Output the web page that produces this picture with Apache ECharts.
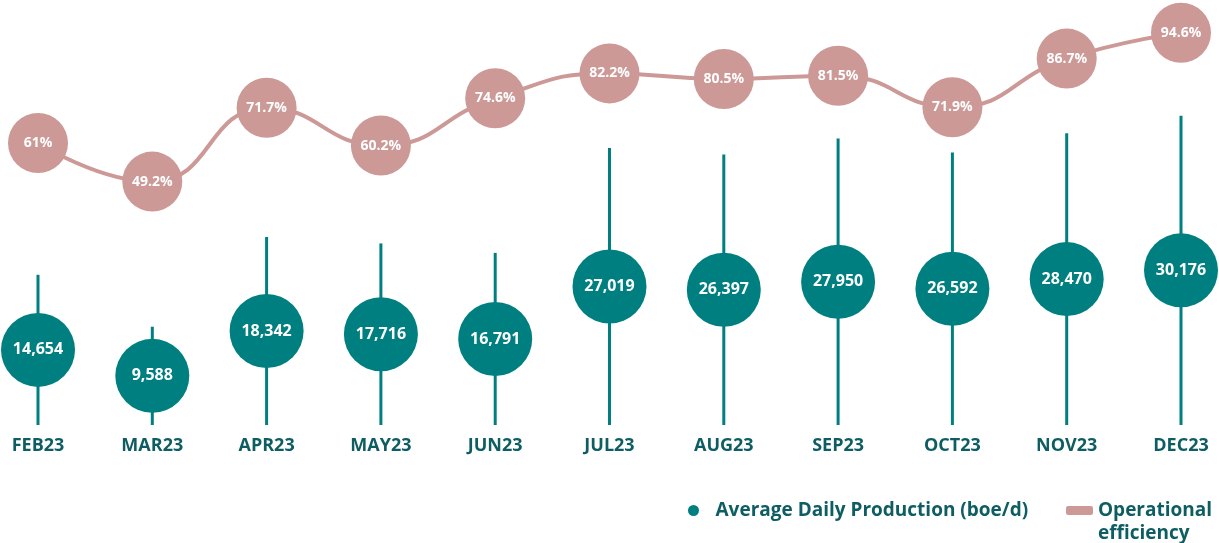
<!DOCTYPE html>
<html>
<head>
<meta charset="utf-8">
<script src="https://cdn.jsdelivr.net/npm/echarts@6/dist/echarts.min.js"></script>
<style>
html,body{margin:0;padding:0;background:#fff;}
#c{width:1219px;height:543px;}
</style>
</head>
<body>
<div id="c"></div>
<script>
const categories = ['FEB23','MAR23','APR23','MAY23','JUN23','JUL23','AUG23','SEP23','OCT23','NOV23','DEC23'];
const production = [14654, 9588, 18342, 17716, 16791, 27019, 26397, 27950, 26592, 28470, 30176];
const efficiency = [61, 49.2, 71.7, 60.2, 74.6, 82.2, 80.5, 81.5, 71.9, 86.7, 94.6];

const TEAL = '#007f80';
const PINK = '#cc9997';
const DARK = '#0e5d63';
const FONT = '"Open Sans", "Noto Sans", sans-serif';
const legendText = { color: DARK, fontWeight: 'bold', fontSize: 19, fontFamily: FONT, lineHeight: 23 };

const chart = echarts.init(document.getElementById('c'));
chart.setOption({
  animation: false,
  grid: { left: 38, right: 38, top: 15, bottom: 118 },
  xAxis: {
    type: 'category',
    data: categories,
    boundaryGap: false,
    axisLine: { show: false },
    axisTick: { show: false },
    splitLine: { show: false },
    axisLabel: { color: DARK, fontWeight: 'bold', fontSize: 18, fontFamily: FONT, margin: 12 }
  },
  yAxis: [
    { type: 'value', min: 0, max: 40000, show: false, splitLine: { show: false } },
    { type: 'value', min: -25, max: 100, show: false, splitLine: { show: false } }
  ],
  legend: [
    {
      left: 683,
      top: 494,
      itemWidth: 34,
      itemHeight: 11,
      symbolKeepAspect: true,
      textStyle: legendText,
      data: [{ name: 'Average Daily Production (boe/d)', icon: 'circle', itemStyle: { color: TEAL } }]
    },
    {
      left: 1061,
      top: 471,
      itemWidth: 27,
      itemHeight: 9,
      textStyle: legendText,
      formatter: function (n) { return n === 'Operational efficiency' ? '\nOperational\nefficiency' : n; },
      data: [{ name: 'Operational efficiency', icon: 'roundRect', itemStyle: { color: PINK } }]
    }
  ],
  series: [
    {
      name: 'Average Daily Production (boe/d)',
      type: 'custom',
      yAxisIndex: 0,
      itemStyle: { color: TEAL },
      data: production.map(function (v, i) { return [i, v]; }),
      renderItem: function (params, api) {
        const i = api.value(0), v = api.value(1);
        const base = api.coord([i, 0]);
        const top = api.coord([i, v]);
        const mid = api.coord([i, v / 2]);
        return {
          type: 'group',
          children: [
            { type: 'line', shape: { x1: base[0], y1: base[1], x2: top[0], y2: top[1] }, style: { stroke: TEAL, lineWidth: 3 } },
            { type: 'circle', shape: { cx: mid[0], cy: mid[1], r: 37 }, style: { fill: TEAL } },
            { type: 'text', x: mid[0], y: mid[1], style: { text: v.toLocaleString('en-US'), fill: '#fff', font: 'bold 16px ' + FONT, align: 'center', verticalAlign: 'middle' } }
          ]
        };
      }
    },
    {
      name: 'Operational efficiency',
      type: 'line',
      yAxisIndex: 1,
      data: efficiency,
      smooth: 0.5,
      symbol: 'circle',
      symbolSize: 60,
      lineStyle: { color: PINK, width: 4 },
      itemStyle: { color: PINK },
      label: {
        show: true, position: 'inside', color: '#fff', fontWeight: 'bold', fontSize: 14, fontFamily: FONT,
        formatter: function (p) { return p.value + '%'; }
      }
    }
  ]
});
</script>
</body>
</html>
